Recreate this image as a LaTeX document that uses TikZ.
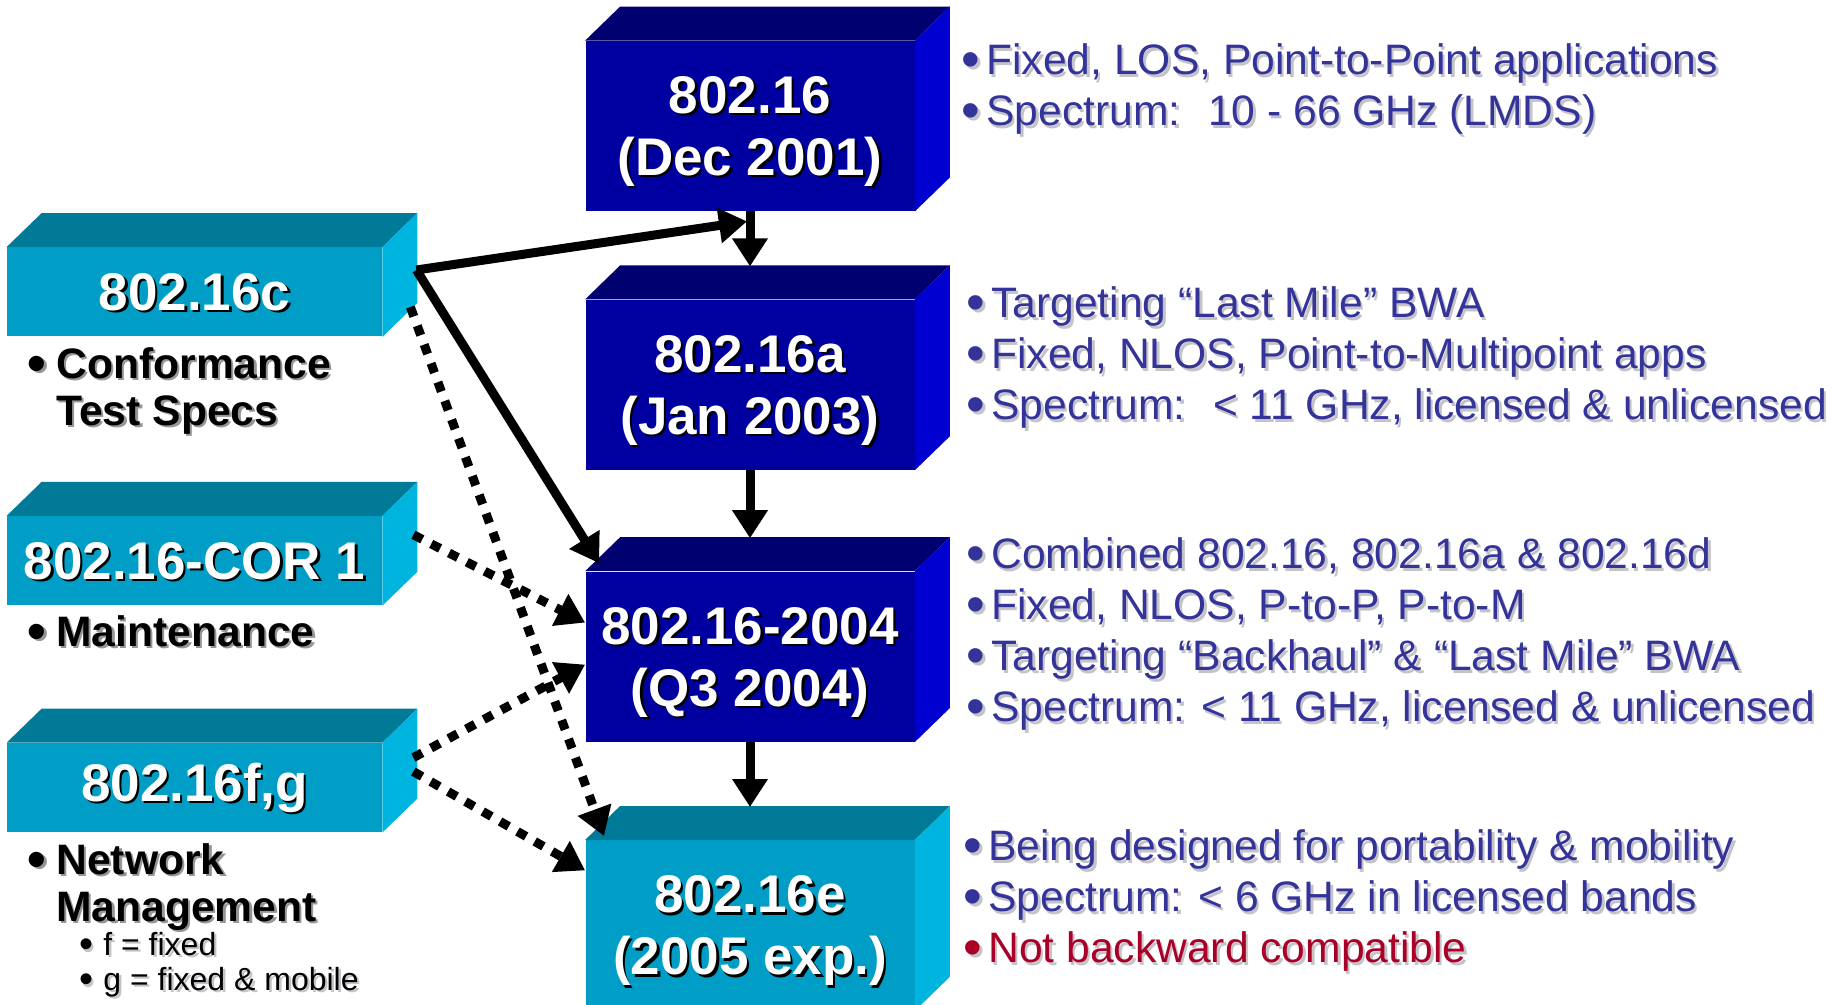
\documentclass[tikz,border=0pt]{standalone}
\usepackage{fontspec}
\setmainfont{Liberation Sans}
\usepackage{tikz}
\usetikzlibrary{positioning, arrows.meta}
\definecolor{frontnavy}{RGB}{0, 0, 160}
\definecolor{topnavy}{RGB}{0, 0, 112}
\definecolor{sidenavy}{RGB}{0, 0, 208}
\definecolor{frontcyan}{RGB}{0, 158, 198}
\definecolor{topcyan}{RGB}{0, 122, 150}
\definecolor{sidecyan}{RGB}{0, 180, 224}
\definecolor{infoblue}{RGB}{51, 51, 153}
\definecolor{infored}{RGB}{170, 0, 40}
\definecolor{softgrey}{RGB}{195, 195, 200}
\definecolor{midgrey}{RGB}{150, 150, 150}

\newcommand{\shd}[2]{\makebox[0pt][l]{\hspace{1.2pt}\raisebox{-1.2pt}[0pt][0pt]{\textcolor{#1}{#2}}}#2}
\newcommand{\itm}[1][3pt]{\llap{\raisebox{-0.07em}{\scalebox{1.25}{\textbullet}}\hspace{#1}}}

\begin{document}
\begin{tikzpicture}[x=0.5pt, y=-0.5pt,
        stdbox/.style={rectangle, fill=front#1, text=white, minimum width=164.5pt, minimum height=85pt, inner sep=0pt, text depth=0pt, align=center, font=\bfseries\fontsize{26.5}{31}\selectfont},
        sidebox/.style={rectangle, fill=frontcyan, text=white, minimum width=187.5pt, minimum height=44.5pt, inner sep=0pt, font=\bfseries\fontsize{26.5}{31}\selectfont},
        note/.style={anchor=north west, inner sep=0pt, align=left, font=\bfseries\fontsize{21.3}{23.5}\selectfont},
        subnote/.style={anchor=north west, inner sep=0pt, align=left, font=\fontsize{16}{17.5}\selectfont},
        info/.style={anchor=north west, inner sep=0pt, align=left, text=infoblue, font=\fontsize{21.3}{25.5}\selectfont},
        link/.style={line width=4.5pt, -{Triangle[length=14pt, width=17pt]}},
        dotlink/.style={link, dash pattern=on 5pt off 5pt}
    ]

        \fill[white] (0,0) rectangle (1838,1005);
        \useasboundingbox (0,0) rectangle (1838,1005);

        % standards column
        \node (s2001) [stdbox=navy] at (750,126) {\shd{black}{802.16}\\\shd{black}{(Dec 2001)}};
        \node (s2003) [stdbox=navy, below=44pt of s2001] {\shd{black}{802.16a}\\\shd{black}{(Jan 2003)}};
        \node (s2004) [stdbox=navy, below=50.5pt of s2003] {\shd{black}{802.16-2004}\\\shd{black}{(Q3 2004)}};
        \node (s2005) [stdbox=cyan, below=49pt of s2004] {\shd{black}{802.16e}\\\shd{black}{(2005 exp.)}};

        % side projects
        \node (c16) [sidebox] at (194.5,292) {\shd{black}{802.16c}};
        \node (cor1) [sidebox, below=89.5pt of c16] {\shd{black}{802.16-COR 1}};
        \node (fg) [sidebox, below=68.5pt of cor1] {\shd{black}{802.16f,g}};

        \foreach \n/\hue in {s2001/navy, s2003/navy, s2004/navy, s2005/cyan, c16/cyan, cor1/cyan, fg/cyan} {
            \fill[fill=top\hue] (\n.north west) -- ++(35,-34) -- ([shift={(35,-34)}]\n.north east) -- (\n.north east) -- cycle;
            \fill[fill=side\hue] (\n.north east) -- ++(35,-34) -- ([shift={(35,-34)}]\n.south east) -- (\n.south east) -- cycle;
        }

        \node (c16note) [note] at (56,347) {\shd{midgrey}{\itm[5pt]Conformance}\\\shd{midgrey}{Test Specs}};
        \node (cor1note) [note] at (56,615) {\shd{midgrey}{\itm[5pt]Maintenance}};
        \node (fgnote) [note] at (56,843) {\shd{midgrey}{\itm[5pt]Network}\\\shd{midgrey}{Management}};
        \node (fgsub) [subnote] at (103,932) {\shd{softgrey}{\itm[5pt]f = fixed}\\\shd{softgrey}{\itm[5pt]g = fixed \& mobile}};

        \node (info2001) [info] at (986,43.5) {
            \shd{softgrey}{\itm Fixed, LOS, Point-to-Point applications}\\
            \shd{softgrey}{\itm Spectrum:~ 10 - 66 GHz (LMDS)}};
        \node (info2003) [info] at (991,286.5) {
            \shd{softgrey}{\itm Targeting ``Last Mile'' BWA}\\
            \shd{softgrey}{\itm Fixed, NLOS, Point-to-Multipoint apps}\\
            \shd{softgrey}{\itm Spectrum:~ < 11 GHz, licensed \& unlicensed}};
        \node (info2004) [info] at (991,537.5) {
            \shd{softgrey}{\itm Combined 802.16, 802.16a \& 802.16d}\\
            \shd{softgrey}{\itm Fixed, NLOS, P-to-P, P-to-M}\\
            \shd{softgrey}{\itm Targeting ``Backhaul'' \& ``Last Mile'' BWA}\\
            \shd{softgrey}{\itm Spectrum: < 11 GHz, licensed \& unlicensed}};
        \node (info2005) [info] at (988,829.5) {
            \shd{softgrey}{\itm Being designed for portability \& mobility}\\
            \shd{softgrey}{\itm Spectrum: < 6 GHz in licensed bands}\\
            {\color{infored}\shd{softgrey}{\itm Not backward compatible}}};

        \draw[link] (s2001.south) -- ([shift={(0,-33)}]s2003.north);
        \draw[link] (s2003.south) -- ([shift={(0,-33)}]s2004.north);
        \draw[link] (s2004.south) -- ([shift={(0,-33)}]s2005.north);

        \draw[link] ([shift={(34,-22)}]c16.east) -- ([shift={(-3,10)}]s2001.south);
        \draw[link] ([shift={(34,-22)}]c16.east) -- ([shift={(14,-8)}]s2004.north west);
        \draw[dotlink] ([shift={(28,15)}]c16.east) -- ([shift={(19,-4)}]s2005.north west);
        \draw[dotlink] ([shift={(31,-26)}]cor1.east) -- ([shift={(0,-34)}]s2004.west);
        \draw[dotlink] ([shift={(31,-30)}]fg.east) -- ([shift={(0,8)}]s2004.west);
        \draw[dotlink] ([shift={(31,-16)}]fg.east) -- ([shift={(0,-55)}]s2005.west);
    \end{tikzpicture}
\end{document}
